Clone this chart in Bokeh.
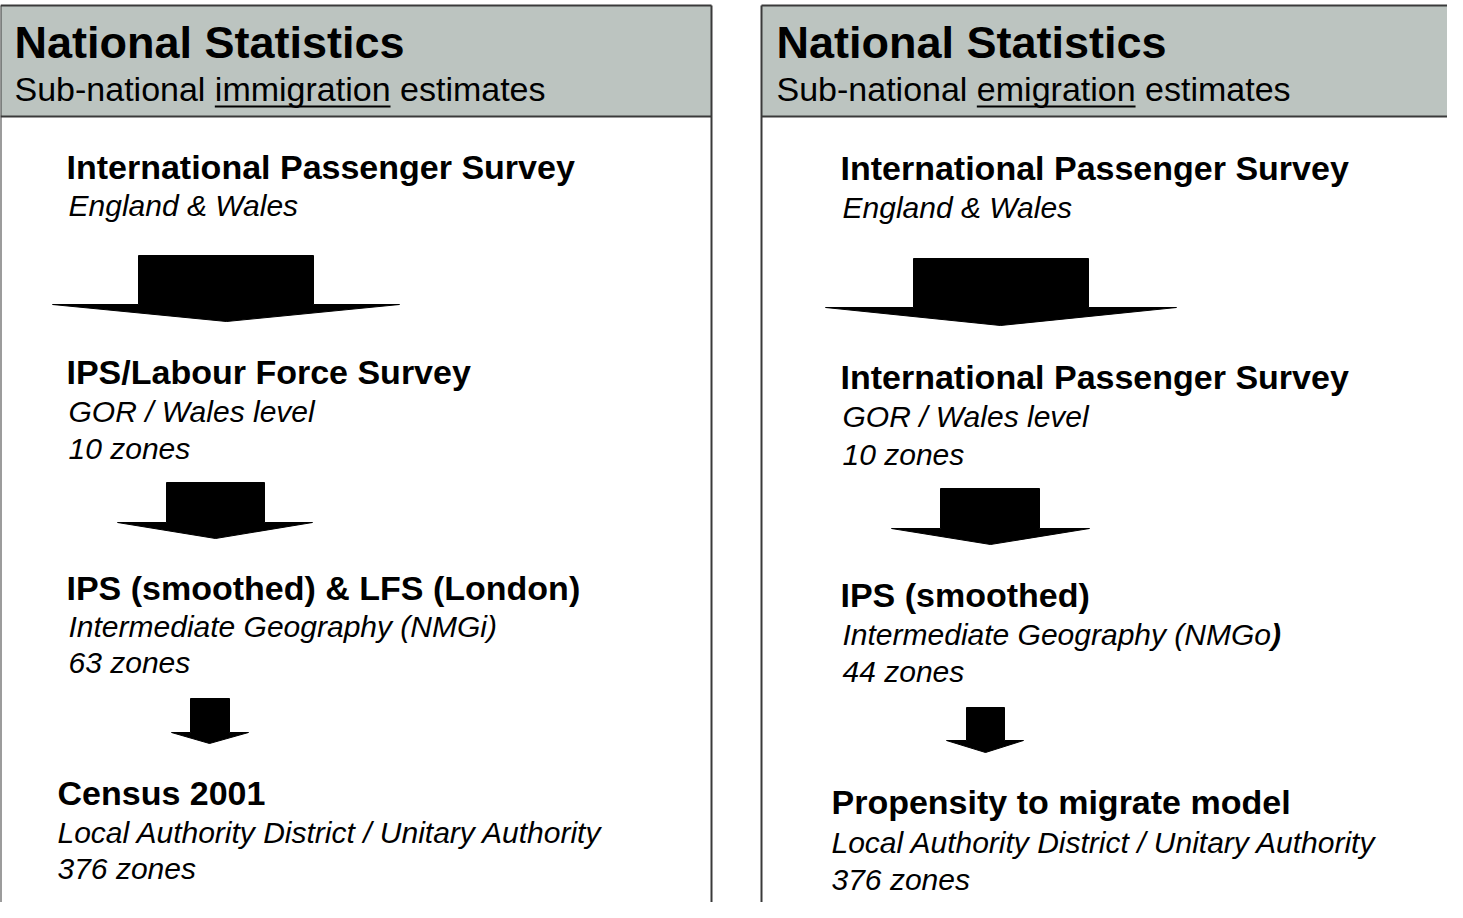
from bokeh.plotting import figure
from bokeh.models import Range1d
from bokeh.core.properties import value
from bokeh.embed import file_html
from bokeh.resources import INLINE

# ---------------- content ----------------
header_title = "National Statistics"
header_pre = "Sub-national "
left_keyword = "immigration"
right_keyword = "emigration"
header_post = " estimates"

left_titles = ["International Passenger Survey", "IPS/Labour Force Survey",
               "IPS (smoothed) & LFS (London)", "Census 2001"]
left_subs = [["England & Wales"],
             ["GOR / Wales level", "10 zones"],
             ["Intermediate Geography (NMGi)", "63 zones"],
             ["Local Authority District / Unitary Authority", "376 zones"]]

right_titles = ["International Passenger Survey", "International Passenger Survey",
                "IPS (smoothed)", "Propensity to migrate model"]
right_subs = [["England & Wales"],
              ["GOR / Wales level", "10 zones"],
              ["Intermediate Geography (NMGo", "44 zones"],
              ["Local Authority District / Unitary Authority", "376 zones"]]
bold_close = ")"   # bold closing parenthesis after "(NMGo"

# ---------------- layout (screen px of the reference) ----------------
FONT = "Liberation Sans"
TITLE_FS, SUB_FS, HEAD_FS, HEAD2_FS = 34, 30, 45, 34

panels = [dict(x0=0, x1=711, tx=14, titles=left_titles, subs=left_subs, key=left_keyword,
               title_x=[66, 66, 66, 57], sub_x=[68, 68, 68, 57],
               title_y=[166, 371, 587, 792],
               sub_y=[[205], [411, 448], [626, 662], [832, 868]],
               arrows=[(138, 313, 255, 304, 52, 399, 226, 321),
                       (166, 264, 482, 522, 117, 312, 215, 538),
                       (190, 229, 698, 732, 171, 248, 209, 743)]),
          dict(x0=761, x1=1480, tx=776, titles=right_titles, subs=right_subs, key=right_keyword,
               title_x=[840, 840, 840, 831], sub_x=[842, 842, 842, 831],
               title_y=[167, 376, 594, 801],
               sub_y=[[207], [416, 454], [634, 671], [842, 879]],
               arrows=[(913, 1088, 258, 307, 825, 1176, 1000, 325),
                       (940, 1039, 488, 528, 891, 1089, 990, 544),
                       (966, 1004, 707, 740, 946, 1023, 985, 752)])]

# Arial/Liberation Sans regular advance widths (em) for the header text
AW = {'S': .667, 'u': .556, 'b': .556, '-': .333, 'n': .556, 'a': .556, 't': .278, 'i': .222,
      'o': .556, 'l': .222, ' ': .278, 'm': .833, 'g': .556, 'r': .333, 'e': .556, 's': .5,
      'I': .278, 'd': .556, 'G': .778, 'p': .556, 'h': .556, 'y': .5, '(': .333, 'N': .722,
      'M': .833}


def width(s, fs):
    return sum(AW.get(c, .556) for c in s) * fs


W, H = 1447, 902
p = figure(width=W, height=H, x_range=Range1d(0, W), y_range=Range1d(H, 0),
           x_axis_location=None, y_axis_location=None, toolbar_location=None,
           output_backend="svg", min_border=0, outline_line_color=None,
           background_fill_color="white", border_fill_color="white")
p.grid.visible = False

GRAY = "#BCC4C0"
EDGE = "#3a3a3a"
TB = "middle"

for pn in panels:
    # header box
    p.quad(left=[pn["x0"]], right=[pn["x1"]], top=[5], bottom=[116],
           fill_color=GRAY, line_color=None)
    # frame lines
    p.multi_line(xs=[[pn["x0"], pn["x0"]], [pn["x1"], pn["x1"]], [pn["x0"], pn["x1"]], [pn["x0"], pn["x1"]]],
                 ys=[[5, 1000], [5, 1000], [5, 5], [116, 116]],
                 line_color=EDGE, line_width=2)
    # header texts
    p.text(x=[pn["tx"]], y=[42], text=[header_title], text_font=value(FONT),
           text_font_size=value(f"{HEAD_FS}px"), text_font_style="bold",
           text_color="black", text_baseline=TB)
    sub = header_pre + pn["key"] + header_post
    p.text(x=[pn["tx"]], y=[88], text=[sub], text_font=value(FONT),
           text_font_size=value(f"{HEAD2_FS}px"), text_color="black",
           text_baseline=TB)
    ux0 = pn["tx"] + width(header_pre, HEAD2_FS)
    ux1 = ux0 + width(pn["key"], HEAD2_FS)
    p.line(x=[ux0, ux1], y=[106, 106], line_color="black", line_width=2)

    # stage titles
    p.text(x=pn["title_x"], y=pn["title_y"], text=pn["titles"], text_font=value(FONT),
           text_font_size=value(f"{TITLE_FS}px"), text_font_style="bold",
           text_color="black", text_baseline=TB)
    # stage sub lines
    sx, sy, st = [], [], []
    for i, lines in enumerate(pn["subs"]):
        for j, s in enumerate(lines):
            sx.append(pn["sub_x"][i]); sy.append(pn["sub_y"][i][j]); st.append(s)
            if s.endswith("(NMGo"):
                p.text(x=[pn["sub_x"][i] + width(s, SUB_FS)], y=[pn["sub_y"][i][j]],
                       text=[bold_close], text_font=value(FONT),
                       text_font_size=value(f"{SUB_FS}px"), text_font_style="bold italic",
                       text_color="black", text_baseline=TB)
    p.text(x=sx, y=sy, text=st, text_font=value(FONT),
           text_font_size=value(f"{SUB_FS}px"), text_font_style="italic",
           text_color="black", text_baseline=TB)

    # arrows
    axs, ays = [], []
    for (rx0, rx1, top, wy, hx0, hx1, tx, ty) in pn["arrows"]:
        axs.append([rx0, rx1, rx1, hx1, tx, hx0, rx0])
        ays.append([top, top, wy, wy, ty, wy, wy])
    p.patches(xs=axs, ys=ays, fill_color="black", line_color="black", line_width=1)

open("out.html", "w").write(file_html(p, INLINE))
